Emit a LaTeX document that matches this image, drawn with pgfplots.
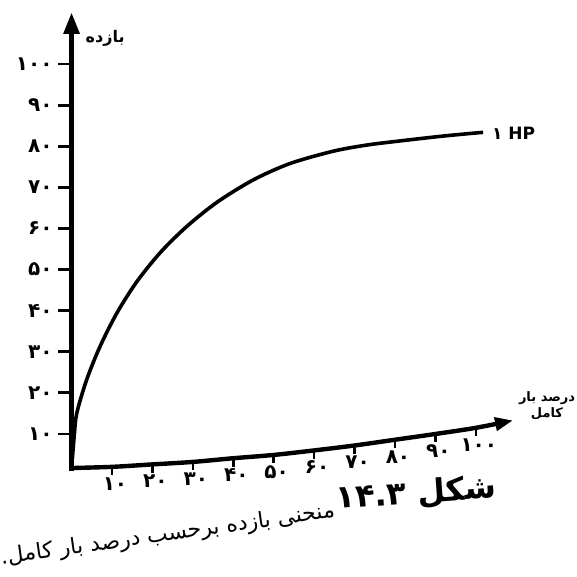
\documentclass[border=0pt]{standalone}
\usepackage{fontspec}
\setmainfont{DejaVu Sans}
\newfontfamily\arabicfont[Script=Arabic]{DejaVu Sans}
\TeXXeTstate=1
\usepackage{pgfplots}
\pgfplotsset{compat=1.18}
\usetikzlibrary{arrows.meta}
\begin{document}
\begin{tikzpicture}
\begin{axis}[name=ax, hide axis, x=2.022pt, y=2.0555pt,
  xmin=-17.7, xmax=125, ymin=-24.8, ymax=115.6, clip=false]
% y axis
\addplot[line width=2.8pt, -{Triangle[width=7.5pt,length=11pt]}] coordinates {(0,0.9) (0,112.7)};
% x axis (curved baseline of the scan)
\addplot[line width=2.2pt, line join=round, smooth, -{Triangle[width=6.5pt,length=9pt]}] coordinates {
 (-0.6,1.7) (10,2.0) (20,2.6) (30,3.2) (40,4.1) (50,4.9) (60,6.0) (70,7.2) (80,8.6) (90,10.0) (100,11.5) (109.2,13.3)};
% y ticks
\addplot[only marks, mark=-, mark size=3pt, mark options={line width=1.4pt},
  point meta=explicit symbolic, nodes near coords, nodes near coords align={anchor=east},
  every node near coord/.append style={anchor=east, inner sep=0pt, xshift=-5pt, font=\arabicfont\bfseries\fontsize{10}{11}\selectfont}]
 coordinates {(-1.9,10)[۱۰] (-1.9,20)[۲۰] (-1.9,30)[۳۰] (-1.9,40)[۴۰] (-1.9,50)[۵۰]
  (-1.9,60)[۶۰] (-1.9,70)[۷۰] (-1.9,80)[۸۰] (-1.9,90)[۹۰] (-1.9,100)[۱۰۰]};
% x ticks
\addplot[only marks, mark=|, mark size=2.5pt, mark options={line width=1.3pt},
  point meta=explicit symbolic, nodes near coords, nodes near coords align={anchor=north},
  every node near coord/.append style={anchor=north, inner sep=0pt, yshift=-3pt, xshift=1.5pt, font=\arabicfont\bfseries\fontsize{10}{11}\selectfont}]
 coordinates {(10,1.2)[۱۰] (20,1.8)[۲۰] (30,2.4)[۳۰] (40,3.3)[۴۰] (50,4.1)[۵۰]
  (60,5.2)[۶۰] (70,6.4)[۷۰] (80,7.8)[۸۰] (90,9.2)[۹۰] (100,10.7)[۱۰۰]};
% efficiency curve
\addplot[line width=1.8pt, smooth, black] coordinates {
 (0.2,4) (0.7,10) (1.3,15.1) (3.7,23.1) (7.0,31.2) (11.2,39.4) (16.1,47.0) (22,54.2)
 (28.5,60.5) (36,66.4) (44.9,71.8) (54,75.8) (64.7,78.8) (73,80.3) (81.2,81.3)
 (92,82.5) (101.8,83.4)};
% labels
\node[font=\arabicfont\bfseries\fontsize{8}{9}\selectfont] at (axis cs:8.3,106.3) {\beginR بازده\endR};
\node[anchor=west, inner sep=0pt, font=\arabicfont\bfseries\fontsize{8.5}{9}\selectfont] at (axis cs:103.9,83.1) {۱ HP};
\node[align=center, inner sep=0pt, font=\arabicfont\bfseries\fontsize{6.5}{8}\selectfont] at (axis cs:117.6,16.8) {\beginR درصد بار\endR\\\beginR کامل\endR};
\node[rotate=4, font=\arabicfont\bfseries\fontsize{16}{18}\selectfont] at (axis cs:85.2,-4.6) {\beginR شکل \beginL۱۴.۳\endL\endR};
\node[rotate=8, font=\arabicfont\fontsize{11}{13}\selectfont] at (axis cs:23.8,-14.6) {\beginR منحنی بازده برحسب درصد بار کامل.\endR};
\end{axis}
\pgfresetboundingbox
\path (ax.south west) rectangle (ax.north east);
\end{tikzpicture}
\end{document}
